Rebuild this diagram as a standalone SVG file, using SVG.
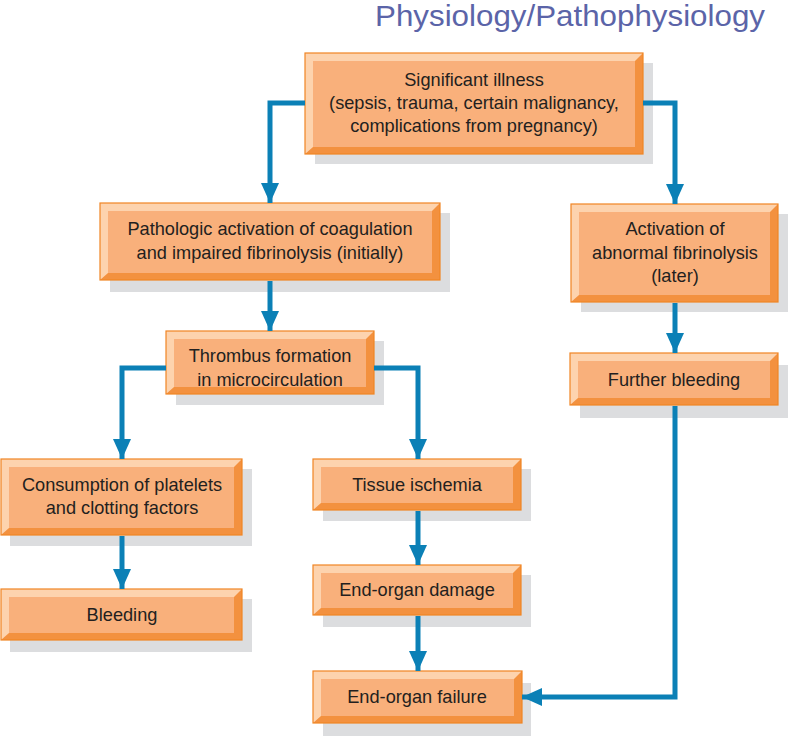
<svg xmlns="http://www.w3.org/2000/svg" width="788" height="736" viewBox="0 0 788 736">
<defs>
<style>
.sh{fill:#dcdddf}
.lt{fill:#fdd3ae}
.dk{fill:#f3913f}
.fc{fill:#f9b07b}
.ol{fill:none;stroke:#f08524;stroke-width:1.2}
.t{font-family:"Liberation Sans",Arial,sans-serif;font-size:18.2px;fill:#231f20;text-anchor:middle}
.ttl{font-family:"Liberation Sans",Arial,sans-serif;font-size:30px;fill:#5b64a8;text-anchor:end}
.c{fill:none;stroke:#0b80b6;stroke-width:5}
</style>
<marker id="ah" markerUnits="userSpaceOnUse" markerWidth="22" markerHeight="22" viewBox="0 0 22 22" refX="20" refY="11" orient="auto">
<path d="M0,2 L20,11 L0,20 Z" fill="#0b80b6"/>
</marker>
</defs>
<rect width="788" height="736" fill="#ffffff"/>
<text class="ttl" x="765" y="26" textLength="390" lengthAdjust="spacingAndGlyphs">Physiology/Pathophysiology</text>

<g id="significant-illness">
<rect class="sh" x="315" y="63" width="338" height="101"/>
<rect class="lt" x="305" y="53" width="338" height="101"/>
<polygon class="dk" points="643,53 643,154 305,154 313,147 635,61"/>
<rect class="fc" x="313" y="61" width="322" height="86"/>
<rect class="ol" x="305" y="53" width="338" height="101"/>
<text class="t" x="474" y="86">Significant illness</text>
<text class="t" x="474" y="109">(sepsis, trauma, certain malignancy,</text>
<text class="t" x="474" y="132">complications from pregnancy)</text>
</g>

<g id="pathologic-activation">
<rect class="sh" x="110" y="213" width="340" height="79"/>
<rect class="lt" x="100" y="203" width="340" height="77"/>
<polygon class="dk" points="440,203 440,280 100,280 108,273 432,211"/>
<rect class="fc" x="108" y="211" width="324" height="62"/>
<rect class="ol" x="100" y="203" width="340" height="77"/>
<text class="t" x="270" y="235">Pathologic activation of coagulation</text>
<text class="t" x="270" y="259">and impaired fibrinolysis (initially)</text>
</g>

<g id="abnormal-fibrinolysis">
<rect class="sh" x="581" y="214" width="207" height="98"/>
<rect class="lt" x="571" y="204" width="207" height="98"/>
<polygon class="dk" points="778,204 778,302 571,302 579,295 770,212"/>
<rect class="fc" x="579" y="212" width="191" height="83"/>
<rect class="ol" x="571" y="204" width="207" height="98"/>
<text class="t" x="675" y="235">Activation of</text>
<text class="t" x="675" y="259">abnormal fibrinolysis</text>
<text class="t" x="675" y="282">(later)</text>
</g>

<g id="thrombus-formation">
<rect class="sh" x="176" y="341" width="208" height="64"/>
<rect class="lt" x="166" y="331" width="208" height="63"/>
<polygon class="dk" points="374,331 374,394 166,394 174,387 366,339"/>
<rect class="fc" x="174" y="339" width="192" height="48"/>
<rect class="ol" x="166" y="331" width="208" height="63"/>
<text class="t" x="270" y="362">Thrombus formation</text>
<text class="t" x="270" y="386">in microcirculation</text>
</g>

<g id="further-bleeding">
<rect class="sh" x="580" y="365" width="208" height="53"/>
<rect class="lt" x="570" y="353" width="208" height="52"/>
<polygon class="dk" points="778,353 778,405 570,405 578,398 770,361"/>
<rect class="fc" x="578" y="361" width="192" height="37"/>
<rect class="ol" x="570" y="353" width="208" height="52"/>
<text class="t" x="674" y="386">Further bleeding</text>
</g>

<g id="consumption">
<rect class="sh" x="10" y="469" width="242" height="77"/>
<rect class="lt" x="1" y="459" width="241" height="76"/>
<polygon class="dk" points="242,459 242,535 1,535 9,528 234,467"/>
<rect class="fc" x="9" y="467" width="225" height="61"/>
<rect class="ol" x="1" y="459" width="241" height="76"/>
<text class="t" x="122" y="491">Consumption of platelets</text>
<text class="t" x="122" y="514">and clotting factors</text>
</g>

<g id="tissue-ischemia">
<rect class="sh" x="323" y="469" width="208" height="52"/>
<rect class="lt" x="313" y="459" width="208" height="51"/>
<polygon class="dk" points="521,459 521,510 313,510 321,503 513,467"/>
<rect class="fc" x="321" y="467" width="192" height="36"/>
<rect class="ol" x="313" y="459" width="208" height="51"/>
<text class="t" x="417" y="491">Tissue ischemia</text>
</g>

<g id="bleeding">
<rect class="sh" x="10" y="599" width="242" height="53"/>
<rect class="lt" x="1" y="589" width="241" height="51"/>
<polygon class="dk" points="242,589 242,640 1,640 9,633 234,597"/>
<rect class="fc" x="9" y="597" width="225" height="36"/>
<rect class="ol" x="1" y="589" width="241" height="51"/>
<text class="t" x="122" y="621">Bleeding</text>
</g>

<g id="end-organ-damage">
<rect class="sh" x="323" y="575" width="208" height="52"/>
<rect class="lt" x="313" y="565" width="208" height="50"/>
<polygon class="dk" points="521,565 521,615 313,615 321,608 513,573"/>
<rect class="fc" x="321" y="573" width="192" height="35"/>
<rect class="ol" x="313" y="565" width="208" height="50"/>
<text class="t" x="417" y="596">End-organ damage</text>
</g>

<g id="end-organ-failure">
<rect class="sh" x="323" y="683" width="208" height="53"/>
<rect class="lt" x="313" y="671" width="209" height="52"/>
<polygon class="dk" points="522,671 522,723 313,723 321,716 514,679"/>
<rect class="fc" x="321" y="679" width="193" height="37"/>
<rect class="ol" x="313" y="671" width="209" height="52"/>
<text class="t" x="417" y="703">End-organ failure</text>
</g>

<g id="connectors">
<path class="c" d="M305,103 H270 V203" marker-end="url(#ah)"/>
<path class="c" d="M643,103 H675 V204" marker-end="url(#ah)"/>
<path class="c" d="M270,281 V331" marker-end="url(#ah)"/>
<path class="c" d="M166,368 H122 V459" marker-end="url(#ah)"/>
<path class="c" d="M374,368 H418 V459" marker-end="url(#ah)"/>
<path class="c" d="M122,536 V589" marker-end="url(#ah)"/>
<path class="c" d="M418,511 V565" marker-end="url(#ah)"/>
<path class="c" d="M418,616 V671" marker-end="url(#ah)"/>
<path class="c" d="M675,303 V353" marker-end="url(#ah)"/>
<path class="c" d="M675,406 V697 H522" marker-end="url(#ah)"/>
</g>
</svg>
